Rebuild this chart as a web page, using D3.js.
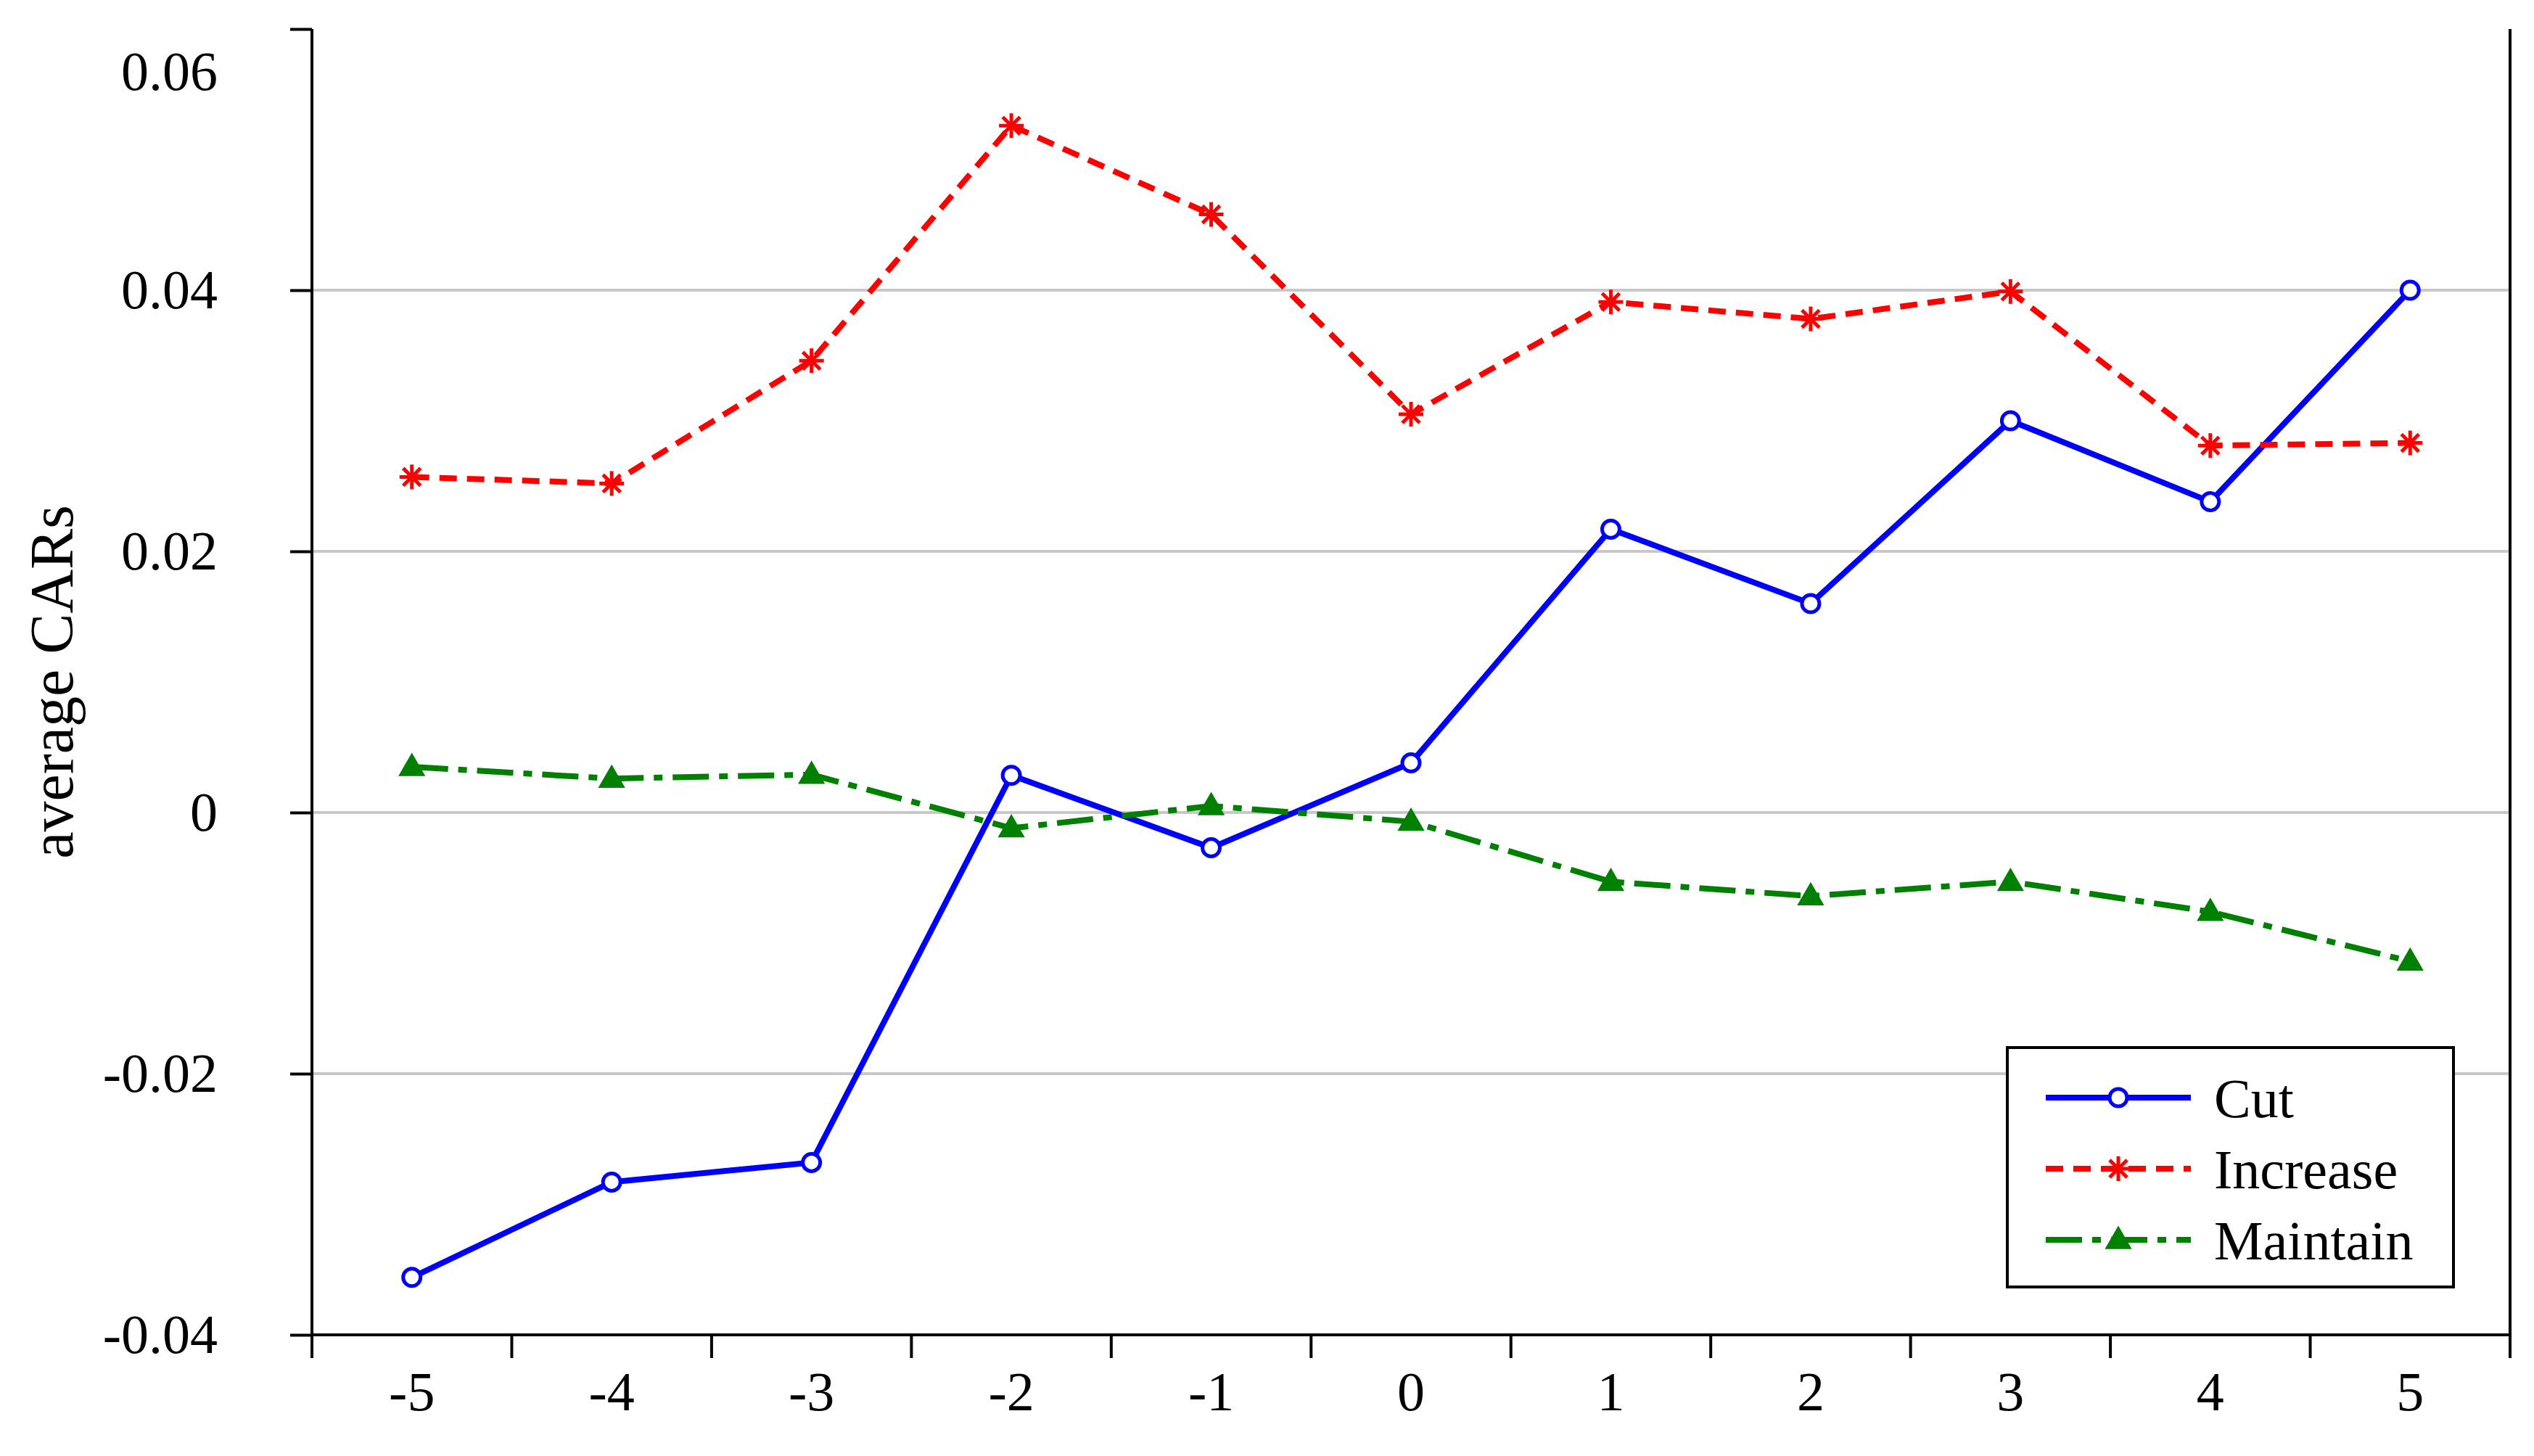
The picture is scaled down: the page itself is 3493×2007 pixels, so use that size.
<!DOCTYPE html><html><head><meta charset="utf-8">
<script src="https://cdn.jsdelivr.net/npm/d3@7"></script>
<style>body{margin:0;background:#fff}</style></head><body><svg id="c" width="3493" height="2007"></svg>
<script>
const categories=["-5","-4","-3","-2","-1","0","1","2","3","4","5"];
const cut=[-0.0356,-0.0283,-0.0268,0.00285,-0.0027,0.0038,0.0217,0.016,0.030,0.0238,0.040];
const increase=[0.0257,0.0252,0.0346,0.0526,0.0458,0.0305,0.0391,0.0378,0.0399,0.0281,0.0283];
const maintain=[0.0035,0.0026,0.0029,-0.0012,0.0005,-0.0007,-0.0053,-0.0064,-0.0053,-0.0076,-0.0114];
const yTicks=[-0.04,-0.02,0,0.02,0.04,0.06];
const yLabels=["-0.04","-0.02","0","0.02","0.04","0.06"];
const svg=d3.select("#c"),F="'Liberation Serif','Times New Roman',serif";
const L=430,R=3460,T=40,B=1840;
const x=d3.scaleBand().domain(categories).range([L,R]);
const y=d3.scaleLinear().domain([-0.04,0.06]).range([B,T]);
svg.append("g").selectAll("line").data(yTicks.filter(v=>v>-0.04&&v<0.06)).join("line")
 .attr("x1",L).attr("x2",R).attr("y1",d=>y(d)).attr("y2",d=>y(d)).attr("stroke","#c8c8c8").attr("stroke-width",4);
const ya=svg.append("g").attr("transform",`translate(${L},0)`).call(d3.axisLeft(y).tickValues(yTicks).tickFormat((d,i)=>yLabels[i]).tickSize(30).tickPadding(100));
ya.selectAll("text").attr("font-family",F).attr("font-size",76).attr("fill","#000");
ya.selectAll(".tick").filter(d=>d===0.06).select("text").attr("dy","1.1em");
ya.selectAll("line,path").attr("stroke","#000").attr("stroke-width",4);
ya.select("path").attr("d",`M0,${T}V${B}`);
const xa=svg.append("g").attr("transform",`translate(0,${B})`).call(d3.axisBottom(x).tickSize(0).tickPadding(50));
xa.selectAll("text").attr("font-family",F).attr("font-size",76).attr("fill","#000").attr("dy","0.71em");
xa.select("path").attr("d",`M${L},0H${R}`).attr("stroke","#000").attr("stroke-width",4);
const bounds=[...categories.map(c=>x(c)),R];
svg.append("g").selectAll("line").data(bounds).join("line").attr("x1",d=>d).attr("x2",d=>d).attr("y1",B).attr("y2",B+32).attr("stroke","#000").attr("stroke-width",4);
svg.append("line").attr("x1",R).attr("x2",R).attr("y1",T).attr("y2",B).attr("stroke","#000").attr("stroke-width",4);
svg.append("text").attr("transform",`translate(100,${(T+B)/2}) rotate(-90)`).attr("text-anchor","middle").attr("font-family",F).attr("font-size",84).text("average CARs");
const cx=c=>x(c)+x.bandwidth()/2;
const line=d3.line().x((d,i)=>cx(categories[i])).y(d=>y(d));
function asterisk(g,px,py,col){const r=17;for(let a=0;a<4;a++){const t=a*Math.PI/4;g.append("line").attr("x1",px-r*Math.cos(t)).attr("y1",py-r*Math.sin(t)).attr("x2",px+r*Math.cos(t)).attr("y2",py+r*Math.sin(t)).attr("stroke",col).attr("stroke-width",5);}}
function marker(g,type,px,py,col){
 if(type==="o")g.append("circle").attr("cx",px).attr("cy",py).attr("r",12).attr("fill","#fff").attr("stroke",col).attr("stroke-width",5);
 else if(type==="*")asterisk(g,px,py,col);
 else g.append("path").attr("d",d3.symbol().type(d3.symbolTriangle).size(600)()).attr("transform",`translate(${px},${py+2})`).attr("fill",col);
}
const series=[{d:cut,c:"#0000ff",dash:null,m:"o",n:"Cut"},{d:increase,c:"#ff0000",dash:"24,14",m:"*",n:"Increase"},{d:maintain,c:"#008000",dash:"50,14,12,14",m:"^",n:"Maintain"}];
series.forEach(s=>{
 svg.append("path").attr("d",line(s.d)).attr("fill","none").attr("stroke",s.c).attr("stroke-width",8).attr("stroke-dasharray",s.dash);
 const g=svg.append("g");s.d.forEach((v,i)=>marker(g,s.m,cx(categories[i]),y(v),s.c));
});
const lg=svg.append("g");
lg.append("rect").attr("x",2767).attr("y",1444).attr("width",615).attr("height",330).attr("fill","#fff").attr("stroke","#000").attr("stroke-width",4);
series.forEach((s,i)=>{const yy=1513+i*98;
 lg.append("line").attr("x1",2820).attr("x2",3020).attr("y1",yy).attr("y2",yy).attr("stroke",s.c).attr("stroke-width",8).attr("stroke-dasharray",s.dash);
 marker(lg,s.m,2920,yy,s.c);
 lg.append("text").attr("x",3052).attr("y",yy).attr("dy","0.35em").attr("font-family",F).attr("font-size",76).text(s.n);});
</script></body></html>
